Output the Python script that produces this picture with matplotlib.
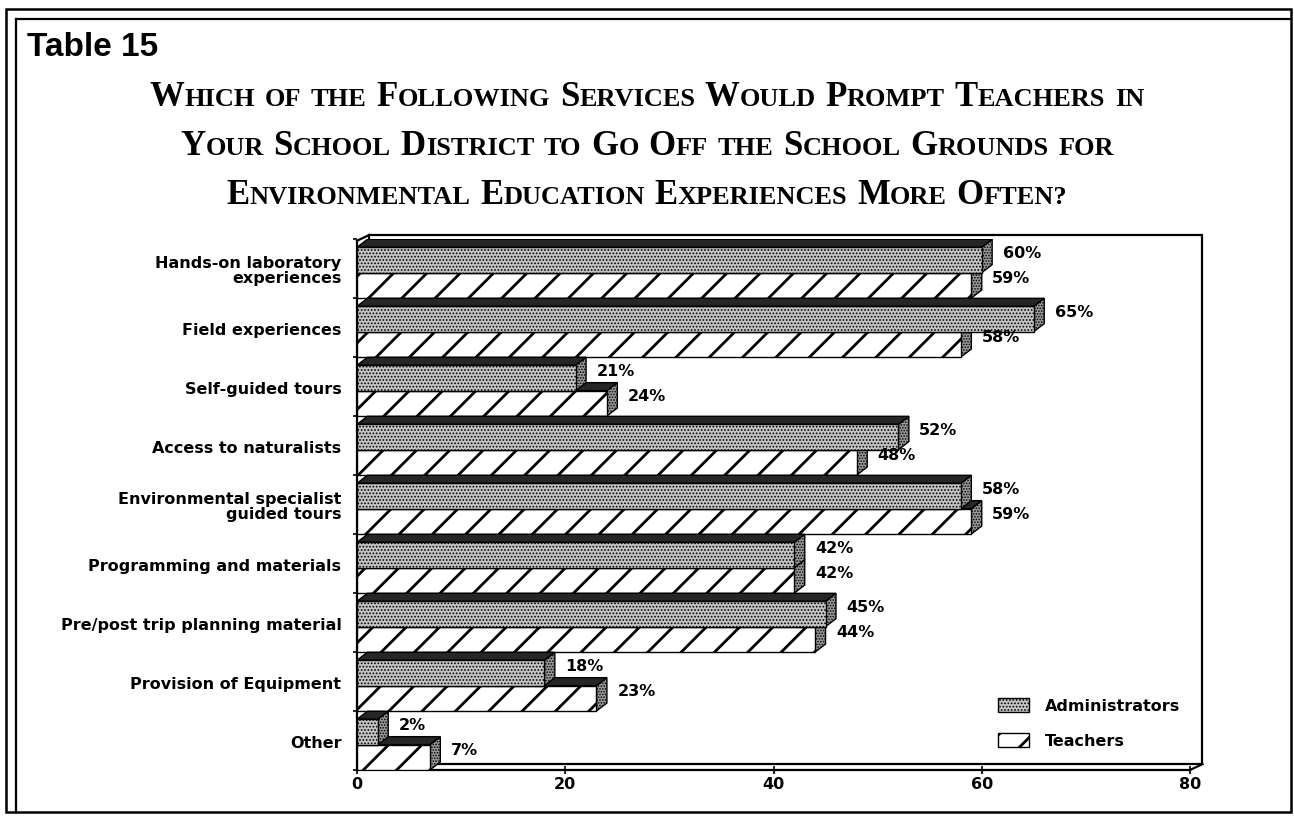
import matplotlib
matplotlib.use("Agg")
import matplotlib.pyplot as plt
from matplotlib.patches import Polygon, Rectangle
from matplotlib.lines import Line2D
from matplotlib.offsetbox import TextArea, HPacker, AnchoredOffsetbox

# Survey responses, listed top to bottom as they appear on the chart
categories = [
    "Hands-on laboratory\nexperiences",
    "Field experiences",
    "Self-guided tours",
    "Access to naturalists",
    "Environmental specialist\nguided tours",
    "Programming and materials",
    "Pre/post trip planning material",
    "Provision of Equipment",
    "Other",
]
administrators = [60, 65, 21, 52, 58, 42, 45, 18, 2]
teachers = [59, 58, 24, 48, 59, 42, 44, 23, 7]
x_ticks = [0, 20, 40, 60, 80]

title_lines = [
    "Which of the Following Services Would Prompt Teachers in",
    "Your School District to Go Off the School Grounds for",
    "Environmental Education Experiences More Often?",
]

W, H = 1294, 817
fig = plt.figure(figsize=(W / 100, H / 100), dpi=100)

# front plane of the 3-D box: x 0..80 -> 357..1190 px, y 0..9 -> 770..239 px
ax = fig.add_axes([357 / W, (H - 770) / H, 833 / W, 531 / H])
ax.set_xlim(0, 80)
ax.set_ylim(0, 9)
for s in ax.spines.values():
    s.set_visible(False)

DX, DY = 1.0, 0.135        # bar depth offset
WX, WY = 1.2, 0.10         # wall depth offset
BAR_H = 0.43
SANS = "DejaVu Sans"
STIPPLE = "#c4c4c4"

# back wall / floor outline
wall = Rectangle((WX, WY), 80, 8.97, facecolor="white", edgecolor="black",
                 linewidth=1.6, zorder=0, clip_on=False)
ax.add_patch(wall)
edges = [
    ([0, 0], [0, 8.97]),
    ([0, 80], [0, 0]),
    ([0, WX], [8.97, 8.97 + WY]),
    ([80, 80 + WX], [0, WY]),
]
for xs, ys in edges:
    ax.add_line(Line2D(xs, ys, color="black", linewidth=1.6, zorder=1,
                       clip_on=False))


def bar3d(y, value, front_hatch, front_color, hatch_lw):
    x1 = value
    y1 = y + BAR_H
    with plt.rc_context({"hatch.linewidth": hatch_lw}):
        front = Rectangle((0, y), value, BAR_H, facecolor=front_color,
                          edgecolor="black", hatch=front_hatch, linewidth=1.0,
                          zorder=3)
    top = Polygon([(0, y1), (x1, y1), (x1 + DX, y1 + DY), (DX, y1 + DY)],
                  closed=True, facecolor="#262626", edgecolor="black",
                  linewidth=1.0, zorder=3)
    with plt.rc_context({"hatch.linewidth": 0.8}):
        side = Polygon([(x1, y), (x1 + DX, y + DY), (x1 + DX, y1 + DY),
                        (x1, y1)],
                       closed=True, facecolor="#9a9a9a", edgecolor="black",
                       hatch="......", linewidth=1.0, zorder=3)
    for p in (side, top, front):
        ax.add_patch(p)


n = len(categories)
for i, (a, t) in enumerate(zip(administrators, teachers)):
    y0 = n - 1 - i
    bar3d(y0, t, "/", "white", 2.0)
    bar3d(y0 + BAR_H, a, ".....", STIPPLE, 0.8)

for i, (cat, a, t) in enumerate(zip(categories, administrators, teachers)):
    y0 = n - 1 - i
    ax.text(-1.5, y0 + 0.45, cat, ha="right", va="center", ma="right",
            fontsize=11.5, fontweight="bold", family=SANS, linespacing=1.0)
    ax.text(a + 2.0, y0 + 0.76, f"{a}%", ha="left", va="center",
            fontsize=11.5, fontweight="bold", family=SANS)
    ax.text(t + 2.0, y0 + 0.33, f"{t}%", ha="left", va="center",
            fontsize=11.5, fontweight="bold", family=SANS)

# axes ticks
ax.set_yticks(range(n + 1))
ax.set_yticklabels([])
ax.tick_params(axis="y", direction="out", length=3, width=1.2)
ax.set_xticks(x_ticks)
ax.set_xticklabels([str(v) for v in x_ticks], fontsize=11.5, fontweight="bold",
                   family=SANS)
ax.tick_params(axis="x", direction="inout", length=6, width=1.2, pad=2)

# legend
with plt.rc_context({"hatch.linewidth": 0.8}):
    ax.add_patch(Rectangle((61.6, 0.98), 2.9, 0.24, facecolor=STIPPLE,
                           edgecolor="black", hatch=".....", linewidth=1.0,
                           zorder=4))
with plt.rc_context({"hatch.linewidth": 2.0}):
    ax.add_patch(Rectangle((61.6, 0.39), 2.9, 0.24, facecolor="white",
                           edgecolor="black", hatch="/", linewidth=1.0,
                           zorder=4))
ax.text(66.1, 1.08, "Administrators", ha="left", va="center", fontsize=11.5,
        fontweight="bold", family=SANS)
ax.text(66.1, 0.49, "Teachers", ha="left", va="center", fontsize=11.5,
        fontweight="bold", family=SANS)

# page frame
frame = fig.add_axes([0, 0, 1, 1], zorder=-1)
frame.set_xlim(0, W)
frame.set_ylim(H, 0)
frame.axis("off")
frame.add_patch(Rectangle((6, 9), 1285, 803, fill=False, linewidth=1.8,
                          edgecolor="black"))
frame.plot([16, 1291], [19, 19], color="black", linewidth=1.6)
frame.plot([16, 16], [19, 812], color="black", linewidth=1.6)

fig.text(27 / W, 1 - 48 / H, "Table 15", ha="left", va="center",
         fontsize=24, fontweight="bold", family="Liberation Sans")


def small_caps(line, big=25, small=19):
    words = []
    for word in line.split():
        parts = []
        if word[0].isupper():
            parts.append(TextArea(word[0], textprops=dict(
                fontsize=big, fontweight="bold", family="Liberation Serif")))
            rest = word[1:]
        else:
            rest = word
        if rest:
            parts.append(TextArea(rest.upper(), textprops=dict(
                fontsize=small, fontweight="bold", family="Liberation Serif")))
        words.append(HPacker(children=parts, align="baseline", pad=0, sep=0))
    return HPacker(children=words, align="baseline", pad=0, sep=7)


for k, line in enumerate(title_lines):
    box = AnchoredOffsetbox(loc="center", child=small_caps(line), pad=0,
                            frameon=False,
                            bbox_to_anchor=(0.5, 1 - (98 + 48.5 * k) / H),
                            bbox_transform=fig.transFigure, borderpad=0)
    fig.add_artist(box)

fig.savefig("out.png", dpi=100)
